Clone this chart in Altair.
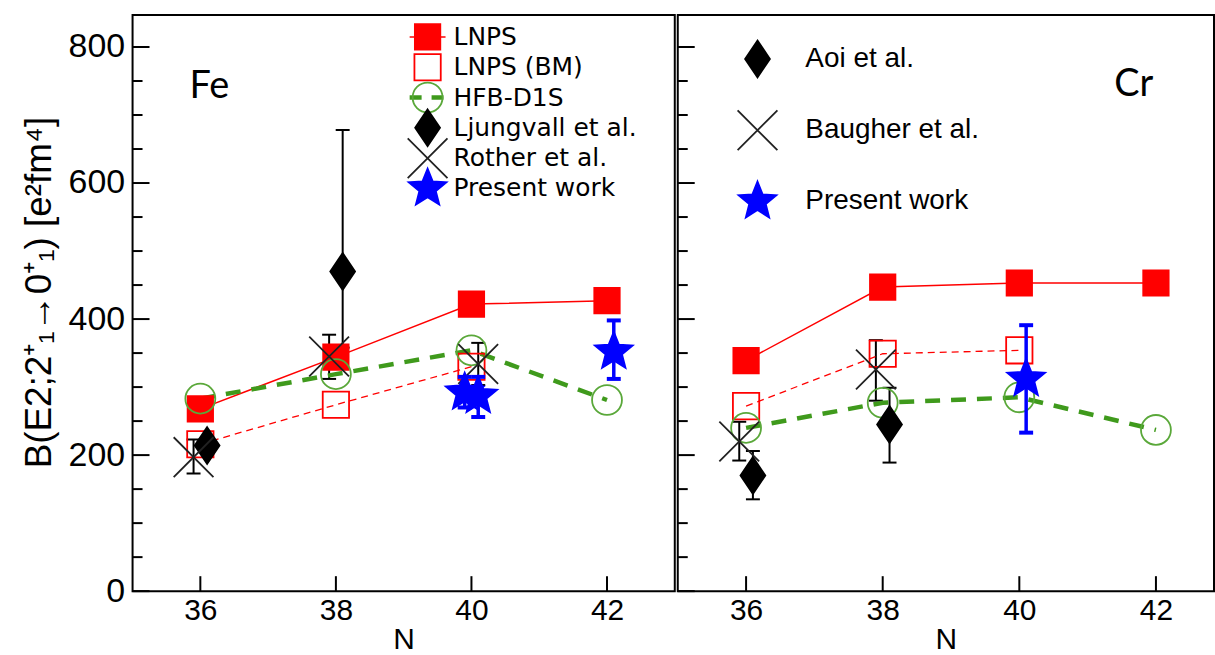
import math
import altair as alt
import pandas as pd

# ---------------- data ----------------
panel_labels = ["Fe", "Cr"]
fe_series = ["LNPS", "LNPS (BM)", "HFB-D1S", "Ljungvall et al.", "Rother et al.", "Present work"]
cr_series = ["LNPS", "LNPS (BM)", "HFB-D1S", "Aoi et al.", "Baugher et al.", "Present work"]
cr_legend_series = ["Aoi et al.", "Baugher et al.", "Present work"]

# Fe panel
fe_lnps_n = [36, 38, 40, 42]
fe_lnps_b = [268, 344, 422, 427]
fe_bm_n = [36, 38, 40]
fe_bm_b = [216, 274, 330]
fe_hfb_n = [36, 38, 40, 42]
fe_hfb_b = [283, 319, 354, 281]
fe_lju_n = [36.1, 38.1]
fe_lju_b = [214, 470]
fe_lju_lo = [None, 358]
fe_lju_hi = [None, 678]
fe_rot_n = [35.9, 37.9, 40.1]
fe_rot_b = [197, 345, 334]
fe_rot_lo = [173, 312, 303]
fe_rot_hi = [223, 377, 365]
fe_pw_n = [39.9, 40.1, 42.1]
fe_pw_b = [292, 287, 352]
fe_pw_lo = [270, 256, 312]
fe_pw_hi = [315, 315, 398]

# Cr panel
cr_lnps_n = [36, 38, 40, 42]
cr_lnps_b = [339, 447, 453, 453]
cr_bm_n = [36, 38, 40]
cr_bm_b = [272, 349, 354]
cr_hfb_n = [36, 38, 40, 42]
cr_hfb_b = [240, 277, 285, 237]
cr_aoi_n = [36.1, 38.1]
cr_aoi_b = [170, 245]
cr_aoi_lo = [135, 189]
cr_aoi_hi = [206, 299]
cr_bau_n = [35.9, 37.9]
cr_bau_b = [220, 326]
cr_bau_lo = [192, 280]
cr_bau_hi = [249, 369]
cr_pw_n = [40.1]
cr_pw_b = [312]
cr_pw_lo = [233]
cr_pw_hi = [391]

x_tick_values = [36, 38, 40, 42]
y_label_values = [0, 200, 400, 600, 800]
y_minor_values = [50, 100, 150, 250, 300, 350, 450, 500, 550, 650, 700, 750]

y_title = "B(E2;2\u207a\u2081\u21920\u207a\u2081) [e\u00b2fm\u2074]"


def rows(series, ns, bs, los=None, his=None):
    out = []
    for i, (n, b) in enumerate(zip(ns, bs)):
        out.append({
            "series": series, "n": n, "b": b,
            "lo": los[i] if los else None,
            "hi": his[i] if his else None,
        })
    return out


fe_df = pd.DataFrame(
    rows("LNPS", fe_lnps_n, fe_lnps_b)
    + rows("LNPS (BM)", fe_bm_n, fe_bm_b)
    + rows("HFB-D1S", fe_hfb_n, fe_hfb_b)
    + rows("Ljungvall et al.", fe_lju_n, fe_lju_b, fe_lju_lo, fe_lju_hi)
    + rows("Rother et al.", fe_rot_n, fe_rot_b, fe_rot_lo, fe_rot_hi)
    + rows("Present work", fe_pw_n, fe_pw_b, fe_pw_lo, fe_pw_hi)
)
cr_df = pd.DataFrame(
    rows("LNPS", cr_lnps_n, cr_lnps_b)
    + rows("LNPS (BM)", cr_bm_n, cr_bm_b)
    + rows("HFB-D1S", cr_hfb_n, cr_hfb_b)
    + rows("Aoi et al.", cr_aoi_n, cr_aoi_b, cr_aoi_lo, cr_aoi_hi)
    + rows("Baugher et al.", cr_bau_n, cr_bau_b, cr_bau_lo, cr_bau_hi)
    + rows("Present work", cr_pw_n, cr_pw_b, cr_pw_lo, cr_pw_hi)
)

# ---------------- symbol shapes (unit box -1..1) ----------------
def star_path(R, r):
    pts = []
    for i in range(10):
        ang = -math.pi / 2 + i * math.pi / 5
        rad = R if i % 2 == 0 else r
        pts.append((rad * math.cos(ang), rad * math.sin(ang)))
    return "M" + "L".join(f"{x:.3f},{y:.3f}" for x, y in pts) + "Z"

SQ_F = "M-0.85,-0.85L0.85,-0.85L0.85,0.85L-0.85,0.85Z"
SQ_O = "M-0.88,-0.88L0.88,-0.88L0.88,0.88L-0.88,0.88Z"
CIRC = "circle"
DIAM = "M0,-1.23L0.83,0L0,1.23L-0.83,0Z"
CROSS = "M-1.33,-1.33L1.33,1.33M-1.33,1.33L1.33,-1.33"
STAR = star_path(1.33, 0.58)

RED = "#ff0000"
GREEN_L = "#3f9a1c"
GREEN_C = "#5aa83a"
BLUE = "#0000ff"

style = {
    "LNPS": (SQ_F, RED, RED),
    "LNPS (BM)": (SQ_O, RED, "transparent"),
    "HFB-D1S": (CIRC, GREEN_C, "transparent"),
    "Ljungvall et al.": (DIAM, "black", "black"),
    "Aoi et al.": (DIAM, "black", "black"),
    "Rother et al.": (CROSS, "#222222", "transparent"),
    "Baugher et al.": (CROSS, "#222222", "transparent"),
    "Present work": (STAR, BLUE, BLUE),
}

H = 578
YDOM = [0, 847]
FONT = "Liberation Sans"


def make_panel(df, series, leg_series, xdom, width, label, label_x, label_y, show_y, leg):
    xs = alt.Scale(domain=xdom, nice=False, zero=False)
    ys = alt.Scale(domain=YDOM, nice=False, zero=True)
    xaxis = alt.Axis(values=x_tick_values, title="N", ticks=False, domain=False, grid=False,
                     labelFontSize=30, titleFontSize=30, labelFont=FONT, titleFont=FONT,
                     titleFontWeight="normal", labelColor="black", titleColor="black",
                     labelPadding=4, titlePadding=0, format="d")
    if show_y:
        yaxis = alt.Axis(values=y_label_values, title=y_title, ticks=False, domain=False, grid=False,
                         labelFontSize=34, titleFontSize=37, labelFont=FONT, titleFont=FONT,
                         titleFontWeight="normal", labelColor="black", titleColor="black",
                         labelPadding=8, titlePadding=10, titleY=278, format="d")
    else:
        yaxis = None

    def X(f):
        return alt.X(f"{f}:Q", scale=xs, axis=xaxis)

    def Y(f):
        return alt.Y(f"{f}:Q", scale=ys, axis=yaxis)

    shapes = [style[s][0] for s in series]
    strokes = [style[s][1] for s in series]
    fills = [style[s][2] for s in series]
    shape_enc = alt.Shape("series:N", scale=alt.Scale(domain=series, range=shapes), legend=None)
    stroke_enc = alt.Stroke("series:N", scale=alt.Scale(domain=series, range=strokes), legend=None)
    fill_enc = alt.Fill("series:N", scale=alt.Scale(domain=series, range=fills), legend=None)

    base = alt.Chart(df)
    err = base.transform_filter("isValid(datum.lo)")
    err_blk = err.transform_filter("datum.series != 'Present work'")
    err_blu = err.transform_filter("datum.series == 'Present work'")

    layers = []
    # black error bars
    layers.append(err_blk.mark_rule(color="black", strokeWidth=2).encode(x=X("n"), y=Y("lo"), y2="hi"))
    layers.append(err_blk.mark_tick(orient="horizontal", color="black", size=14, thickness=2, opacity=1)
                  .encode(x=X("n"), y=Y("lo")))
    layers.append(err_blk.mark_tick(orient="horizontal", color="black", size=14, thickness=2, opacity=1)
                  .encode(x=X("n"), y=Y("hi")))
    # lines
    layers.append(base.transform_filter("datum.series == 'LNPS (BM)'")
                  .mark_line(color=RED, strokeWidth=1.3, strokeDash=[7, 5])
                  .encode(x=X("n"), y=Y("b"), order="n:Q"))
    layers.append(base.transform_filter("datum.series == 'LNPS'")
                  .mark_line(color=RED, strokeWidth=1.5)
                  .encode(x=X("n"), y=Y("b"), order="n:Q"))
    layers.append(base.transform_filter("datum.series == 'HFB-D1S'")
                  .mark_line(color=GREEN_L, strokeWidth=4.5, strokeDash=[15, 11])
                  .encode(x=X("n"), y=Y("b"), order="n:Q"))
    # points
    layers.append(base.mark_point(size=900, strokeWidth=1.8, opacity=1).encode(
        x=X("n"), y=Y("b"), shape=shape_enc, stroke=stroke_enc, fill=fill_enc))
    # blue error bars (drawn on top)
    layers.append(err_blu.mark_rule(color=BLUE, strokeWidth=3.5).encode(x=X("n"), y=Y("lo"), y2="hi"))
    layers.append(err_blu.mark_tick(orient="horizontal", color=BLUE, size=14, thickness=4, opacity=1)
                  .encode(x=X("n"), y=Y("lo")))
    layers.append(err_blu.mark_tick(orient="horizontal", color=BLUE, size=14, thickness=4, opacity=1)
                  .encode(x=X("n"), y=Y("hi")))
    # inward axis ticks
    ymaj = alt.Chart(pd.DataFrame({"v": y_label_values}))
    ymin = alt.Chart(pd.DataFrame({"v": y_minor_values}))
    xt = alt.Chart(pd.DataFrame({"v": x_tick_values}))
    layers.append(ymaj.mark_rule(color="black", strokeWidth=2).encode(
        y=Y("v"), x=alt.value(0), x2=alt.value(17)))
    layers.append(ymin.mark_rule(color="black", strokeWidth=2).encode(
        y=Y("v"), x=alt.value(0), x2=alt.value(10)))
    layers.append(xt.mark_rule(color="black", strokeWidth=2).encode(
        x=X("v"), y=alt.value(H), y2=alt.value(H - 15)))
    # panel label
    layers.append(alt.Chart(pd.DataFrame({"t": [label]})).mark_text(
        font="Lato", fontSize=38, align="left", baseline="alphabetic", color="black"
    ).encode(text="t:N", x=alt.value(label_x), y=alt.value(label_y)))

    main = alt.layer(*layers)

    # legend (own row scale, independent of the data y scale)
    ldf = pd.DataFrame({"series": leg_series, "row": list(range(len(leg_series)))})
    rs = alt.Scale(domain=[0, len(leg_series) - 1], range=leg["rows"], nice=False, zero=False)
    LY = alt.Y("row:Q", scale=rs, axis=None)
    lbase = alt.Chart(ldf)
    llayers = []
    sx = leg["sx"]
    if "LNPS" in leg_series:
        llayers.append(lbase.transform_filter("datum.series == 'LNPS'").mark_rule(
            color=RED, strokeWidth=1.5).encode(y=LY, x=alt.value(sx - 18), x2=alt.value(sx + 18)))
    if "HFB-D1S" in leg_series:
        llayers.append(lbase.transform_filter("datum.series == 'HFB-D1S'").mark_rule(
            color=GREEN_L, strokeWidth=4.5, strokeDash=[12, 10]).encode(
            y=LY, x=alt.value(sx - 18), x2=alt.value(sx + 18)))
    llayers.append(lbase.mark_point(size=900, strokeWidth=1.8, opacity=1).encode(
        y=LY, x=alt.value(sx), shape=shape_enc, stroke=stroke_enc, fill=fill_enc))
    llayers.append(lbase.mark_text(align="left", baseline="middle", font=leg["font"],
                                   fontSize=leg["size"], color="black").encode(
        y=LY, x=alt.value(leg["tx"]), text="series:N"))
    legend_layer = alt.layer(*llayers)

    return (alt.layer(main, legend_layer)
            .resolve_scale(y="independent")
            .properties(width=width, height=H))


fe_leg = {"rows": [22, 174], "sx": 296, "tx": 322, "font": "DejaVu Sans", "size": 25}
cr_leg = {"rows": [44, 187], "sx": 80, "tx": 128, "font": FONT, "size": 28}

left = make_panel(fe_df, fe_series, fe_series, [35, 43], 544, panel_labels[0], 57, 83, True, fe_leg)
right = make_panel(cr_df, cr_series, cr_legend_series, [35, 42.85], 538, panel_labels[1], 438, 81,
                   False, cr_leg)

chart = (
    alt.hconcat(left, right, spacing=0)
    .resolve_scale(shape="independent", stroke="independent", fill="independent")
    .properties(padding={"left": 19, "top": 13, "right": 0, "bottom": 0}, background="white")
    .configure_view(stroke="black", strokeWidth=2)
)

chart.save("out.html", embed_options={"renderer": "svg", "actions": False})
